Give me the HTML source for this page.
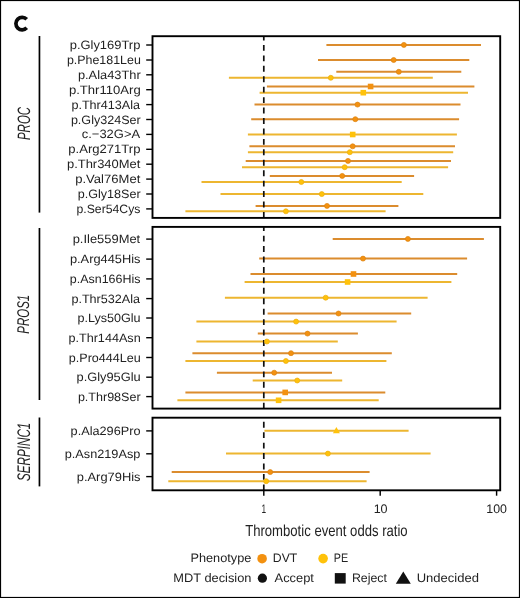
<!DOCTYPE html><html><head><meta charset="utf-8"><title>Forest plot</title>
<style>html,body{margin:0;padding:0;background:#fff;}svg{display:block;will-change:transform;}text{font-family:"Liberation Sans", sans-serif;text-rendering:geometricPrecision;}</style></head><body>
<svg width="520" height="598" viewBox="0 0 520 598">
<rect x="0" y="0" width="520" height="598" fill="#fff"/>
<rect x="0.5" y="0.5" width="519" height="597" fill="none" stroke="#000" stroke-width="1.2"/>
<path d="M 26.72 19.34 A 6.25 6.25 0 1 0 26.72 27.86" fill="none" stroke="#0a0a0a" stroke-width="3.7"/>
<line x1="326.4" y1="44.9" x2="481.0" y2="44.9" stroke="#DB8C2E" stroke-width="2.0"/>
<line x1="318.0" y1="60.0" x2="469.3" y2="60.0" stroke="#DB8C2E" stroke-width="2.0"/>
<line x1="336.3" y1="71.8" x2="461.3" y2="71.8" stroke="#DB8C2E" stroke-width="2.0"/>
<line x1="228.9" y1="77.8" x2="432.8" y2="77.8" stroke="#EDB630" stroke-width="2.0"/>
<line x1="266.9" y1="86.5" x2="474.4" y2="86.5" stroke="#DB8C2E" stroke-width="2.0"/>
<line x1="259.6" y1="92.7" x2="468.0" y2="92.7" stroke="#EDB630" stroke-width="2.0"/>
<line x1="254.5" y1="104.6" x2="460.5" y2="104.6" stroke="#DB8C2E" stroke-width="2.0"/>
<line x1="251.2" y1="119.2" x2="459.1" y2="119.2" stroke="#DB8C2E" stroke-width="2.0"/>
<line x1="247.9" y1="134.5" x2="456.9" y2="134.5" stroke="#EDB630" stroke-width="2.0"/>
<line x1="249.4" y1="146.3" x2="455.0" y2="146.3" stroke="#DB8C2E" stroke-width="2.0"/>
<line x1="247.9" y1="152.2" x2="453.2" y2="152.2" stroke="#EDB630" stroke-width="2.0"/>
<line x1="245.7" y1="160.9" x2="451.0" y2="160.9" stroke="#DB8C2E" stroke-width="2.0"/>
<line x1="242.0" y1="167.2" x2="448.1" y2="167.2" stroke="#EDB630" stroke-width="2.0"/>
<line x1="269.8" y1="175.9" x2="414.1" y2="175.9" stroke="#DB8C2E" stroke-width="2.0"/>
<line x1="201.5" y1="182.0" x2="401.7" y2="182.0" stroke="#EDB630" stroke-width="2.0"/>
<line x1="220.5" y1="194.1" x2="423.3" y2="194.1" stroke="#EDB630" stroke-width="2.0"/>
<line x1="255.6" y1="205.9" x2="398.4" y2="205.9" stroke="#DB8C2E" stroke-width="2.0"/>
<line x1="185.4" y1="211.3" x2="385.6" y2="211.3" stroke="#EDB630" stroke-width="2.0"/>
<line x1="332.7" y1="238.9" x2="483.9" y2="238.9" stroke="#DB8C2E" stroke-width="2.0"/>
<line x1="259.2" y1="258.6" x2="467.1" y2="258.6" stroke="#DB8C2E" stroke-width="2.0"/>
<line x1="250.5" y1="274.0" x2="457.2" y2="274.0" stroke="#DB8C2E" stroke-width="2.0"/>
<line x1="244.6" y1="282.0" x2="451.4" y2="282.0" stroke="#EDB630" stroke-width="2.0"/>
<line x1="224.9" y1="297.7" x2="427.6" y2="297.7" stroke="#EDB630" stroke-width="2.0"/>
<line x1="267.6" y1="313.5" x2="411.2" y2="313.5" stroke="#DB8C2E" stroke-width="2.0"/>
<line x1="196.4" y1="321.6" x2="396.6" y2="321.6" stroke="#EDB630" stroke-width="2.0"/>
<line x1="257.8" y1="333.6" x2="357.9" y2="333.6" stroke="#DB8C2E" stroke-width="2.0"/>
<line x1="196.4" y1="341.5" x2="337.8" y2="341.5" stroke="#EDB630" stroke-width="2.0"/>
<line x1="192.4" y1="353.2" x2="391.8" y2="353.2" stroke="#DB8C2E" stroke-width="2.0"/>
<line x1="185.4" y1="361.0" x2="386.4" y2="361.0" stroke="#EDB630" stroke-width="2.0"/>
<line x1="216.9" y1="372.7" x2="332.0" y2="372.7" stroke="#DB8C2E" stroke-width="2.0"/>
<line x1="252.7" y1="380.5" x2="342.2" y2="380.5" stroke="#EDB630" stroke-width="2.0"/>
<line x1="185.4" y1="392.4" x2="385.3" y2="392.4" stroke="#DB8C2E" stroke-width="2.0"/>
<line x1="177.4" y1="400.3" x2="378.7" y2="400.3" stroke="#EDB630" stroke-width="2.0"/>
<line x1="264.4" y1="430.8" x2="408.6" y2="430.8" stroke="#EDB630" stroke-width="2.0"/>
<line x1="226.0" y1="453.6" x2="430.6" y2="453.6" stroke="#EDB630" stroke-width="2.0"/>
<line x1="171.7" y1="472.1" x2="369.6" y2="472.1" stroke="#DB8C2E" stroke-width="2.0"/>
<line x1="168.3" y1="481.2" x2="366.6" y2="481.2" stroke="#EDB630" stroke-width="2.0"/>
<line x1="263.8" y1="217.9" x2="263.8" y2="36.2" stroke="#111" stroke-width="1.7" stroke-dasharray="5.9 4.54"/>
<line x1="263.8" y1="408.6" x2="263.8" y2="226.9" stroke="#111" stroke-width="1.7" stroke-dasharray="5.9 4.54"/>
<line x1="263.8" y1="490.3" x2="263.8" y2="417.7" stroke="#111" stroke-width="1.7" stroke-dasharray="5.9 4.54"/>
<circle cx="403.9" cy="44.9" r="2.5" fill="#F39110" stroke="#DC8210" stroke-width="0.7"/>
<circle cx="393.7" cy="60.0" r="2.5" fill="#F39110" stroke="#DC8210" stroke-width="0.7"/>
<circle cx="398.8" cy="71.8" r="2.5" fill="#F39110" stroke="#DC8210" stroke-width="0.7"/>
<circle cx="330.8" cy="77.8" r="2.5" fill="#FFC20A" stroke="#EDAE10" stroke-width="0.7"/>
<rect x="367.8" y="83.7" width="5.6" height="5.6" fill="#F39110"/>
<rect x="360.5" y="89.9" width="5.6" height="5.6" fill="#FFC20A"/>
<circle cx="357.5" cy="104.6" r="2.5" fill="#F39110" stroke="#DC8210" stroke-width="0.7"/>
<circle cx="355.3" cy="119.2" r="2.5" fill="#F39110" stroke="#DC8210" stroke-width="0.7"/>
<rect x="349.9" y="131.7" width="5.6" height="5.6" fill="#FFC20A"/>
<circle cx="352.7" cy="146.3" r="2.5" fill="#F39110" stroke="#DC8210" stroke-width="0.7"/>
<circle cx="349.8" cy="152.2" r="2.5" fill="#FFC20A" stroke="#EDAE10" stroke-width="0.7"/>
<circle cx="348.0" cy="160.9" r="2.5" fill="#F39110" stroke="#DC8210" stroke-width="0.7"/>
<circle cx="344.7" cy="167.2" r="2.5" fill="#FFC20A" stroke="#EDAE10" stroke-width="0.7"/>
<circle cx="342.2" cy="175.9" r="2.5" fill="#F39110" stroke="#DC8210" stroke-width="0.7"/>
<circle cx="301.3" cy="182.0" r="2.5" fill="#FFC20A" stroke="#EDAE10" stroke-width="0.7"/>
<circle cx="321.8" cy="194.1" r="2.5" fill="#FFC20A" stroke="#EDAE10" stroke-width="0.7"/>
<circle cx="327.0" cy="205.9" r="2.5" fill="#F39110" stroke="#DC8210" stroke-width="0.7"/>
<circle cx="285.9" cy="211.3" r="2.5" fill="#FFC20A" stroke="#EDAE10" stroke-width="0.7"/>
<circle cx="407.9" cy="238.9" r="2.5" fill="#F39110" stroke="#DC8210" stroke-width="0.7"/>
<circle cx="363.0" cy="258.6" r="2.5" fill="#F39110" stroke="#DC8210" stroke-width="0.7"/>
<rect x="350.7" y="271.2" width="5.6" height="5.6" fill="#F39110"/>
<rect x="344.8" y="279.2" width="5.6" height="5.6" fill="#FFC20A"/>
<circle cx="325.7" cy="297.7" r="2.5" fill="#FFC20A" stroke="#EDAE10" stroke-width="0.7"/>
<circle cx="338.5" cy="313.5" r="2.5" fill="#F39110" stroke="#DC8210" stroke-width="0.7"/>
<circle cx="296.1" cy="321.6" r="2.5" fill="#FFC20A" stroke="#EDAE10" stroke-width="0.7"/>
<circle cx="307.5" cy="333.6" r="2.5" fill="#F39110" stroke="#DC8210" stroke-width="0.7"/>
<circle cx="266.9" cy="341.5" r="2.5" fill="#FFC20A" stroke="#EDAE10" stroke-width="0.7"/>
<circle cx="291.0" cy="353.2" r="2.5" fill="#F39110" stroke="#DC8210" stroke-width="0.7"/>
<circle cx="285.9" cy="361.0" r="2.5" fill="#FFC20A" stroke="#EDAE10" stroke-width="0.7"/>
<circle cx="274.2" cy="372.7" r="2.5" fill="#F39110" stroke="#DC8210" stroke-width="0.7"/>
<circle cx="297.2" cy="380.5" r="2.5" fill="#FFC20A" stroke="#EDAE10" stroke-width="0.7"/>
<rect x="282.4" y="389.6" width="5.6" height="5.6" fill="#F39110"/>
<rect x="275.8" y="397.5" width="5.6" height="5.6" fill="#FFC20A"/>
<polygon points="332.9,433.3 339.9,433.3 336.4,426.9" fill="#FFC20A"/>
<circle cx="327.9" cy="453.6" r="2.5" fill="#FFC20A" stroke="#EDAE10" stroke-width="0.7"/>
<circle cx="270.2" cy="472.1" r="2.5" fill="#F39110" stroke="#DC8210" stroke-width="0.7"/>
<circle cx="266.2" cy="481.2" r="2.5" fill="#FFC20A" stroke="#EDAE10" stroke-width="0.7"/>
<rect x="152.5" y="36.2" width="347.7" height="181.7" fill="none" stroke="#000" stroke-width="1.9"/>
<line x1="39.45" y1="36.0" x2="39.45" y2="212.6" stroke="#000" stroke-width="1.7"/>
<rect x="152.5" y="226.9" width="347.7" height="181.7" fill="none" stroke="#000" stroke-width="1.9"/>
<line x1="39.45" y1="228.0" x2="39.45" y2="400.0" stroke="#000" stroke-width="1.7"/>
<rect x="152.5" y="417.7" width="347.7" height="72.6" fill="none" stroke="#000" stroke-width="1.9"/>
<line x1="39.45" y1="417.5" x2="39.45" y2="486.4" stroke="#000" stroke-width="1.7"/>
<line x1="146.2" y1="45.0" x2="152" y2="45.0" stroke="#000" stroke-width="1.4"/>
<text x="69.7" y="49.0" font-size="12.1" fill="#222222" textLength="70.7" lengthAdjust="spacingAndGlyphs">p.Gly169Trp</text>
<line x1="146.2" y1="60.0" x2="152" y2="60.0" stroke="#000" stroke-width="1.4"/>
<text x="66.9" y="64.0" font-size="12.1" fill="#222222" textLength="73.9" lengthAdjust="spacingAndGlyphs">p.Phe181Leu</text>
<line x1="146.2" y1="74.8" x2="152" y2="74.8" stroke="#000" stroke-width="1.4"/>
<text x="77.9" y="78.8" font-size="12.1" fill="#222222" textLength="62.8" lengthAdjust="spacingAndGlyphs">p.Ala43Thr</text>
<line x1="146.2" y1="89.7" x2="152" y2="89.7" stroke="#000" stroke-width="1.4"/>
<text x="68.9" y="93.7" font-size="12.1" fill="#222222" textLength="71.8" lengthAdjust="spacingAndGlyphs">p.Thr110Arg</text>
<line x1="146.2" y1="104.6" x2="152" y2="104.6" stroke="#000" stroke-width="1.4"/>
<text x="71.4" y="108.6" font-size="12.1" fill="#222222" textLength="68.7" lengthAdjust="spacingAndGlyphs">p.Thr413Ala</text>
<line x1="146.2" y1="119.5" x2="152" y2="119.5" stroke="#000" stroke-width="1.4"/>
<text x="70.9" y="123.5" font-size="12.1" fill="#222222" textLength="69.8" lengthAdjust="spacingAndGlyphs">p.Gly324Ser</text>
<line x1="146.2" y1="134.4" x2="152" y2="134.4" stroke="#000" stroke-width="1.4"/>
<text x="81.8" y="138.4" font-size="12.1" fill="#222222" textLength="58.3" lengthAdjust="spacingAndGlyphs">c.−32G&gt;A</text>
<line x1="146.2" y1="149.3" x2="152" y2="149.3" stroke="#000" stroke-width="1.4"/>
<text x="68.3" y="153.3" font-size="12.1" fill="#222222" textLength="72.1" lengthAdjust="spacingAndGlyphs">p.Arg271Trp</text>
<line x1="146.2" y1="164.2" x2="152" y2="164.2" stroke="#000" stroke-width="1.4"/>
<text x="67.0" y="168.2" font-size="12.1" fill="#222222" textLength="73.3" lengthAdjust="spacingAndGlyphs">p.Thr340Met</text>
<line x1="146.2" y1="179.1" x2="152" y2="179.1" stroke="#000" stroke-width="1.4"/>
<text x="75.2" y="183.1" font-size="12.1" fill="#222222" textLength="65.1" lengthAdjust="spacingAndGlyphs">p.Val76Met</text>
<line x1="146.2" y1="194.0" x2="152" y2="194.0" stroke="#000" stroke-width="1.4"/>
<text x="77.8" y="198.0" font-size="12.1" fill="#222222" textLength="62.8" lengthAdjust="spacingAndGlyphs">p.Gly18Ser</text>
<line x1="146.2" y1="208.9" x2="152" y2="208.9" stroke="#000" stroke-width="1.4"/>
<text x="76.5" y="212.9" font-size="12.1" fill="#222222" textLength="63.9" lengthAdjust="spacingAndGlyphs">p.Ser54Cys</text>
<line x1="146.2" y1="239.1" x2="152" y2="239.1" stroke="#000" stroke-width="1.4"/>
<text x="72.7" y="243.1" font-size="12.1" fill="#222222" textLength="67.5" lengthAdjust="spacingAndGlyphs">p.Ile559Met</text>
<line x1="146.2" y1="259.1" x2="152" y2="259.1" stroke="#000" stroke-width="1.4"/>
<text x="69.9" y="263.1" font-size="12.1" fill="#222222" textLength="70.6" lengthAdjust="spacingAndGlyphs">p.Arg445His</text>
<line x1="146.2" y1="278.9" x2="152" y2="278.9" stroke="#000" stroke-width="1.4"/>
<text x="69.8" y="282.9" font-size="12.1" fill="#222222" textLength="70.6" lengthAdjust="spacingAndGlyphs">p.Asn166His</text>
<line x1="146.2" y1="298.6" x2="152" y2="298.6" stroke="#000" stroke-width="1.4"/>
<text x="71.4" y="302.6" font-size="12.1" fill="#222222" textLength="68.7" lengthAdjust="spacingAndGlyphs">p.Thr532Ala</text>
<line x1="146.2" y1="318.0" x2="152" y2="318.0" stroke="#000" stroke-width="1.4"/>
<text x="77.4" y="322.0" font-size="12.1" fill="#222222" textLength="63.2" lengthAdjust="spacingAndGlyphs">p.Lys50Glu</text>
<line x1="146.2" y1="337.7" x2="152" y2="337.7" stroke="#000" stroke-width="1.4"/>
<text x="68.4" y="341.7" font-size="12.1" fill="#222222" textLength="72.3" lengthAdjust="spacingAndGlyphs">p.Thr144Asn</text>
<line x1="146.2" y1="357.5" x2="152" y2="357.5" stroke="#000" stroke-width="1.4"/>
<text x="68.8" y="361.5" font-size="12.1" fill="#222222" textLength="71.9" lengthAdjust="spacingAndGlyphs">p.Pro444Leu</text>
<line x1="146.2" y1="377.2" x2="152" y2="377.2" stroke="#000" stroke-width="1.4"/>
<text x="76.5" y="381.2" font-size="12.1" fill="#222222" textLength="64.2" lengthAdjust="spacingAndGlyphs">p.Gly95Glu</text>
<line x1="146.2" y1="396.6" x2="152" y2="396.6" stroke="#000" stroke-width="1.4"/>
<text x="77.9" y="400.6" font-size="12.1" fill="#222222" textLength="62.7" lengthAdjust="spacingAndGlyphs">p.Thr98Ser</text>
<line x1="146.2" y1="430.9" x2="152" y2="430.9" stroke="#000" stroke-width="1.4"/>
<text x="70.6" y="434.9" font-size="12.1" fill="#222222" textLength="69.9" lengthAdjust="spacingAndGlyphs">p.Ala296Pro</text>
<line x1="146.2" y1="453.8" x2="152" y2="453.8" stroke="#000" stroke-width="1.4"/>
<text x="64.7" y="457.8" font-size="12.1" fill="#222222" textLength="75.7" lengthAdjust="spacingAndGlyphs">p.Asn219Asp</text>
<line x1="146.2" y1="476.6" x2="152" y2="476.6" stroke="#000" stroke-width="1.4"/>
<text x="76.8" y="480.6" font-size="12.1" fill="#222222" textLength="63.7" lengthAdjust="spacingAndGlyphs">p.Arg79His</text>
<line x1="263.8" y1="491" x2="263.8" y2="495.7" stroke="#000" stroke-width="1.45"/>
<line x1="380.2" y1="491" x2="380.2" y2="495.7" stroke="#000" stroke-width="1.45"/>
<line x1="496.6" y1="491" x2="496.6" y2="495.7" stroke="#000" stroke-width="1.45"/>
<circle cx="262.1" cy="558.7" r="4.8" fill="#F39110"/>
<circle cx="323.1" cy="558.6" r="4.8" fill="#FFC20A"/>
<circle cx="262.4" cy="578.2" r="4.6" fill="#111"/>
<rect x="334.8" y="573.1" width="10.9" height="10.5" fill="#111"/>
<polygon points="395.8,583.7 410.8,583.7 403.3,571.6" fill="#111"/>
<g transform="translate(29.610,140.070) scale(1.4911,0.9573)"><g transform="rotate(-90)"><text x="0" y="0" font-size="12" font-style="italic" fill="#222">PROC</text></g></g>
<g transform="translate(29.448,333.627) scale(1.4139,0.9554)"><g transform="rotate(-90)"><text x="0" y="0" font-size="12" font-style="italic" fill="#222">PROS1</text></g></g>
<g transform="translate(29.794,481.080) scale(1.5198,0.9735)"><g transform="rotate(-90)"><text x="0" y="0" font-size="12" font-style="italic" fill="#222">SERPINC1</text></g></g>
<g transform="translate(261.392,512.500) scale(0.6925,1.0350)"><text x="0" y="0" font-size="12" fill="#222">1</text></g>
<g transform="translate(373.640,512.500) scale(1.0455,1.0350)"><text x="0" y="0" font-size="12" fill="#222">10</text></g>
<g transform="translate(486.319,512.500) scale(1.0332,1.0350)"><text x="0" y="0" font-size="12" fill="#222">100</text></g>
<g transform="translate(245.166,535.654) scale(0.9364,1.1452)"><text x="0" y="0" font-size="14" fill="#222">Thrombotic event odds ratio</text></g>
<g transform="translate(190.393,562.300) scale(1.0614,1.0250)"><text x="0" y="0" font-size="12" fill="#222">Phenotype</text></g>
<g transform="translate(272.806,562.300) scale(1.0203,1.0250)"><text x="0" y="0" font-size="12" fill="#222">DVT</text></g>
<g transform="translate(333.740,562.300) scale(0.8988,1.0250)"><text x="0" y="0" font-size="12" fill="#222">PE</text></g>
<g transform="translate(173.315,581.500) scale(1.0675,1.0250)"><text x="0" y="0" font-size="12" fill="#222">MDT decision</text></g>
<g transform="translate(274.575,581.500) scale(1.0729,1.0250)"><text x="0" y="0" font-size="12" fill="#222">Accept</text></g>
<g transform="translate(351.932,581.500) scale(1.0301,1.0250)"><text x="0" y="0" font-size="12" fill="#222">Reject</text></g>
<g transform="translate(416.627,581.500) scale(1.0850,1.0250)"><text x="0" y="0" font-size="12" fill="#222">Undecided</text></g>
</svg></body></html>
